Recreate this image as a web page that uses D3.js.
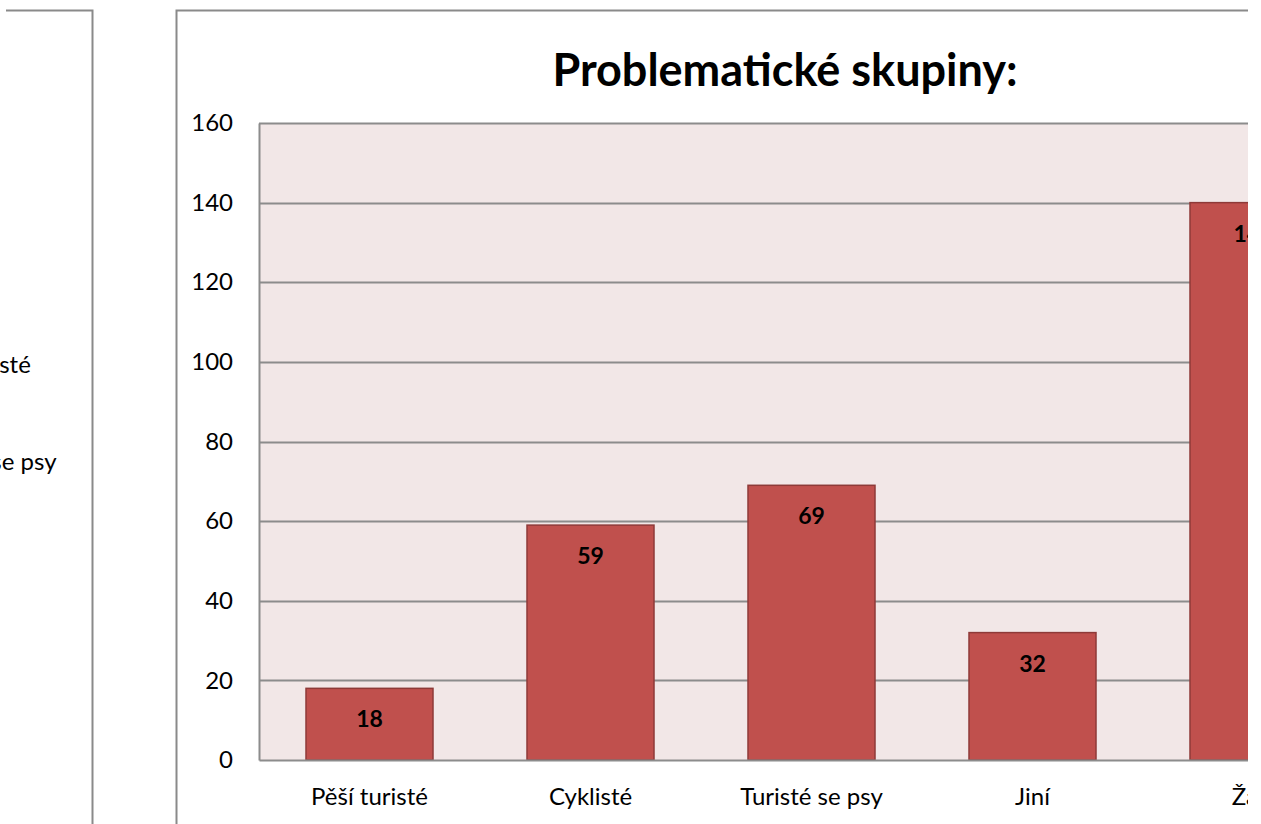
<!DOCTYPE html>
<html>
<head>
<meta charset="utf-8">
<script src="https://cdn.jsdelivr.net/npm/d3@7"></script>
<style>
  html, body { margin: 0; padding: 0; background: #fff; }
  svg { display: block; font-family: Lato, "Open Sans", sans-serif; }
</style>
</head>
<body>
<svg id="chart" width="1261" height="824"></svg>
<script>
// data
var categories = ['Pěší turisté', 'Cyklisté', 'Turisté se psy', 'Jiní', 'Žáci'];
var values = [18, 59, 69, 32, 140];
var yTicks = [0, 20, 40, 60, 80, 100, 120, 140, 160];
var legendLabels = ['Pěší turisté', 'Cyklisté', 'Turisté se psy', 'Jiní', 'Žáci'];
var title = 'Problematické skupiny:';

var svg = d3.select('#chart');
var width = 1261, height = 824;

// visible window is cut at the right
svg.append('defs').append('clipPath').attr('id', 'cut')
  .append('rect').attr('x', 0).attr('y', 0).attr('width', 1248).attr('height', height);

var root = svg.append('g').attr('clip-path', 'url(#cut)');

// left panel (neighbouring chart, only its right edge is visible)
root.append('path')
  .attr('d', 'M6,10.5H92.5V824')
  .attr('fill', 'none').attr('stroke', '#8a8a8a').attr('stroke-width', 2);

var legend = root.append('g');
legend.selectAll('text')
  .data(legendLabels)
  .enter().append('text')
  .attr('x', -86)
  .attr('y', function(d, i) { return 365 + i * 48.5; })
  .attr('dy', '0.35em')
  .attr('font-size', 24)
  .attr('fill', '#000')
  .text(function(d) { return d; });

// chart panel border
root.append('path')
  .attr('d', 'M176.5,824V10.5H1261')
  .attr('fill', 'none').attr('stroke', '#8a8a8a').attr('stroke-width', 2);

var plot = { left: 259, top: 123, bottom: 760 };
var band = 221;

var x = d3.scaleBand()
  .domain(categories)
  .range([plot.left, plot.left + band * categories.length])
  .paddingInner(94 / 221)
  .paddingOuter(47 / 221);

var y = d3.scaleLinear().domain([0, 160]).range([plot.bottom, plot.top]);

var plotRight = plot.left + band * categories.length;

// plot background
root.append('rect')
  .attr('x', plot.left).attr('y', plot.top)
  .attr('width', plotRight - plot.left).attr('height', plot.bottom - plot.top)
  .attr('fill', '#f2e7e7');

// gridlines
root.append('g').selectAll('line')
  .data(yTicks.filter(function(t) { return t > 0; }))
  .enter().append('line')
  .attr('x1', plot.left).attr('x2', plotRight)
  .attr('y1', function(d) { return Math.round(y(d)) + 0.5; })
  .attr('y2', function(d) { return Math.round(y(d)) + 0.5; })
  .attr('stroke', '#8c8c8c').attr('stroke-width', 2);

// y axis
var yAxis = root.append('g')
  .attr('transform', 'translate(' + plot.left + ',0)')
  .call(d3.axisLeft(y).tickValues(yTicks).tickSize(0).tickPadding(26));
yAxis.select('.domain').attr('stroke', '#8c8c8c').attr('stroke-width', 2);
yAxis.selectAll('text').attr('font-size', 24).attr('fill', '#000').attr('font-family', 'Lato, sans-serif');

// bars
root.append('g').selectAll('rect')
  .data(values)
  .enter().append('rect')
  .attr('x', function(d, i) { return x(categories[i]); })
  .attr('y', function(d) { return y(d); })
  .attr('width', x.bandwidth())
  .attr('height', function(d) { return y(0) - y(d); })
  .attr('fill', '#c0504d')
  .attr('stroke', '#8e3a38').attr('stroke-width', 1.5);

// value labels
root.append('g').selectAll('text')
  .data(values)
  .enter().append('text')
  .attr('x', function(d, i) { return x(categories[i]) + x.bandwidth() / 2; })
  .attr('y', function(d) { return y(d) + 31; })
  .attr('dy', '0.35em')
  .attr('text-anchor', 'middle')
  .attr('font-size', 23).attr('font-weight', 'bold')
  .attr('fill', '#000')
  .text(function(d) { return d; });

// x axis
var xAxis = root.append('g')
  .attr('transform', 'translate(0,' + plot.bottom + ')')
  .call(d3.axisBottom(x).tickSize(0).tickPadding(28));
xAxis.select('.domain').attr('stroke', '#8c8c8c').attr('stroke-width', 2);
xAxis.selectAll('text').attr('font-size', 24).attr('fill', '#000').attr('font-family', 'Lato, sans-serif');

// title
root.append('text')
  .attr('x', 785).attr('y', 70)
  .attr('dy', '0.35em')
  .attr('text-anchor', 'middle')
  .attr('font-size', 45).attr('font-weight', 'bold')
  .attr('fill', '#000')
  .text(title);
</script>
</body>
</html>
